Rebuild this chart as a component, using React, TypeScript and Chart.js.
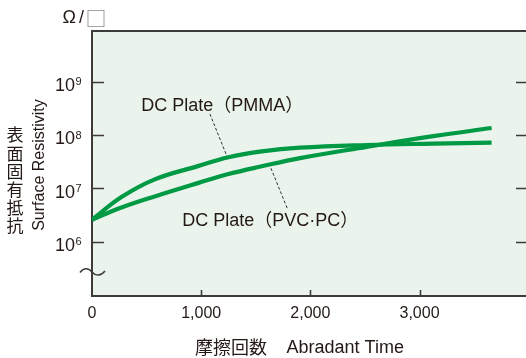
import React, { useEffect, useRef } from "react";
import { Chart, registerables } from "chart.js";

Chart.register(...registerables);

// ---- data ----
const abradeTimes = [0, 270, 575, 970, 1250, 1555, 1905, 2515, 3125, 3660];
const pmmaValues = [2.6e6, 6.9e6, 1.48e7, 2.62e7, 3.85e7, 4.95e7, 5.8e7, 6.5e7, 6.9e7, 7.2e7];
const pvcValues = [2.6e6, 4.4e6, 7.1e6, 1.26e7, 1.86e7, 2.6e7, 3.7e7, 6.0e7, 9.5e7, 1.35e8];

const xTickValues = [0, 1000, 2000, 3000];
const xTickLabels = ["0", "1,000", "2,000", "3,000"];
const yTickValues = [1e6, 1e7, 1e8, 1e9];
const yTickBase = "10";
const yTickExponents = ["6", "7", "8", "9"];

const xMin = 0;
const xMax = 3975;
const yMin = 9.77e4;
const yMax = 8.8e9;

// leader lines (data coordinates)
const pmmaLeaderX = [1080, 1236];
const pmmaLeaderY = [2.47e8, 4.0e7];
const pvcLeaderX = [1639, 1788];
const pvcLeaderY = [2.39e7, 4.27e6];

// annotation labels (data coordinates of text start / baseline)
const pmmaLabel = { text: "DC Plate（PMMA）", x: 450, y: 2.85e8 };
const pvcLabel = { text: "DC Plate（PVC·PC）", x: 826, y: 1.99e6 };

const unitOmega = "Ω";
const unitSlash = "/";
const unitBox = "□";
const yTitleJa = ["表", "面", "固", "有", "抵", "抗"];
const yTitleEn = "Surface Resistivity";
const xTitleJa = "摩擦回数";
const xTitleEn = "Abradant Time";

const GREEN = "#009944";
const TEXT = "#231815";
const AXIS = "#3e3a39";
const BG = "#eaf4ec";
const LATIN = '"Liberation Sans", Arial, sans-serif';
const CJK = '"Noto Sans CJK JP", sans-serif';

const decorPlugin = {
  id: "decor",
  beforeDatasetsDraw(chart: any) {
    const { ctx, chartArea: a, scales } = chart;
    const xs = scales.x;
    const ys = scales.y;
    ctx.save();
    ctx.fillStyle = BG;
    ctx.fillRect(a.left, a.top, a.right - a.left, a.bottom - a.top);

    ctx.strokeStyle = AXIS;
    ctx.lineWidth = 2;
    ctx.beginPath();
    ctx.moveTo(a.right, a.top);
    ctx.lineTo(a.left, a.top);
    ctx.lineTo(a.left, a.bottom);
    ctx.lineTo(a.right, a.bottom);
    ctx.stroke();

    ctx.lineWidth = 1.6;
    yTickValues.forEach((v) => {
      const py = Math.round(ys.getPixelForValue(v)) + 0.5;
      ctx.beginPath();
      ctx.moveTo(a.left, py);
      ctx.lineTo(a.left + 12, py);
      ctx.moveTo(a.right - 10, py);
      ctx.lineTo(a.right, py);
      ctx.stroke();
    });
    xTickValues.forEach((v) => {
      if (v === xMin) return;
      const px = Math.round(xs.getPixelForValue(v)) + 0.5;
      ctx.beginPath();
      ctx.moveTo(px, a.bottom);
      ctx.lineTo(px, a.bottom - 6);
      ctx.stroke();
    });

    // axis break mark
    ctx.lineWidth = 1.5;
    ctx.beginPath();
    const by = a.bottom - 24;
    ctx.moveTo(a.left - 12, by + 0.5);
    ctx.bezierCurveTo(a.left - 9, by - 4, a.left - 4, by - 5, a.left, by);
    ctx.bezierCurveTo(a.left + 4, by + 4.5, a.left + 9, by + 4, a.left + 13, by - 1);
    ctx.stroke();
    ctx.restore();
  },
  afterDatasetsDraw(chart: any) {
    const { ctx, chartArea: a, scales } = chart;
    const xs = scales.x;
    const ys = scales.y;
    ctx.save();
    ctx.fillStyle = TEXT;

    yTickValues.forEach((v, i) => {
      const py = ys.getPixelForValue(v);
      ctx.font = `18px ${LATIN}`;
      ctx.textAlign = "right";
      ctx.textBaseline = "alphabetic";
      ctx.fillText(yTickBase, a.left - 17, py + 9.2);
      ctx.font = `11px ${LATIN}`;
      ctx.textAlign = "left";
      ctx.fillText(yTickExponents[i], a.left - 16.5, py + 3.5);
    });

    ctx.font = `16px ${LATIN}`;
    ctx.textAlign = "center";
    ctx.textBaseline = "alphabetic";
    xTickValues.forEach((v, i) => {
      const px = xs.getPixelForValue(v);
      ctx.fillText(xTickLabels[i], px, a.bottom + 22.3);
    });

    ctx.textAlign = "left";
    ctx.font = `18px ${CJK}`;
    ctx.fillText(xTitleJa, 195, 354);
    ctx.font = `18px ${LATIN}`;
    ctx.fillText(xTitleEn, 286.5, 353.3);

    ctx.font = `17px ${CJK}`;
    ctx.textAlign = "center";
    ctx.textBaseline = "middle";
    yTitleJa.forEach((c, i) => {
      ctx.fillText(c, 15, 135 + i * 18.2);
    });
    ctx.save();
    ctx.translate(40, 165);
    ctx.rotate(-Math.PI / 2);
    ctx.font = `16px ${LATIN}`;
    ctx.fillText(yTitleEn, 0, 0);
    ctx.restore();

    // unit  Ω/□
    ctx.textAlign = "left";
    ctx.textBaseline = "alphabetic";
    ctx.font = `18px ${LATIN}`;
    ctx.fillText(unitOmega, 62.5, 23);
    ctx.fillText(unitSlash, 79, 23);
    ctx.fillStyle = "#8a8a8a";
    ctx.font = `21px ${CJK}`;
    ctx.fillText(unitBox, 85.5, 26);
    ctx.fillStyle = TEXT;

    ctx.font = `18px ${LATIN}, ${CJK}`;
    [pmmaLabel, pvcLabel].forEach((l) => {
      ctx.fillText(l.text, xs.getPixelForValue(l.x), ys.getPixelForValue(l.y));
    });
    ctx.restore();
  },
};

export default function App() {
  const ref = useRef<HTMLCanvasElement | null>(null);
  useEffect(() => {
    document.body.style.margin = "0";
    const canvas = ref.current;
    if (!canvas) return;
    const toPoints = (xsArr: number[], ysArr: number[]) =>
      xsArr.map((x, i) => ({ x, y: ysArr[i] }));
    const chart = new Chart(canvas, {
      type: "line",
      data: {
        datasets: [
          {
            label: "DC Plate（PMMA）",
            data: toPoints(abradeTimes, pmmaValues),
            borderColor: GREEN,
            borderWidth: 4.2,
            pointRadius: 0,
            tension: 0.4,
            fill: false,
          },
          {
            label: "DC Plate（PVC·PC）",
            data: toPoints(abradeTimes, pvcValues),
            borderColor: GREEN,
            borderWidth: 4.2,
            pointRadius: 0,
            tension: 0.4,
            fill: false,
          },
          {
            label: "pmma leader",
            data: toPoints(pmmaLeaderX, pmmaLeaderY),
            borderColor: "#333",
            borderWidth: 1,
            borderDash: [3, 2],
            pointRadius: 0,
            tension: 0,
            fill: false,
          },
          {
            label: "pvc leader",
            data: toPoints(pvcLeaderX, pvcLeaderY),
            borderColor: "#333",
            borderWidth: 1,
            borderDash: [3, 2],
            pointRadius: 0,
            tension: 0,
            fill: false,
          },
        ],
      },
      options: {
        responsive: false,
        animation: false,
        events: [],
        layout: { padding: { top: 31, left: 0, right: 0, bottom: 0 } },
        plugins: { legend: { display: false }, tooltip: { enabled: false } },
        scales: {
          x: {
            type: "linear",
            min: xMin,
            max: xMax,
            ticks: { display: false },
            grid: { display: false },
            border: { display: false },
            afterFit: (s: any) => {
              s.height = 62;
            },
          },
          y: {
            type: "logarithmic",
            min: yMin,
            max: yMax,
            ticks: { display: false },
            grid: { display: false },
            border: { display: false },
            afterFit: (s: any) => {
              s.width = 92;
            },
          },
        },
      },
      plugins: [decorPlugin],
    } as any);
    return () => chart.destroy();
  }, []);
  return (
    <canvas
      ref={ref}
      width={526}
      height={358}
      style={{ display: "block", width: 526, height: 358 }}
    />
  );
}
